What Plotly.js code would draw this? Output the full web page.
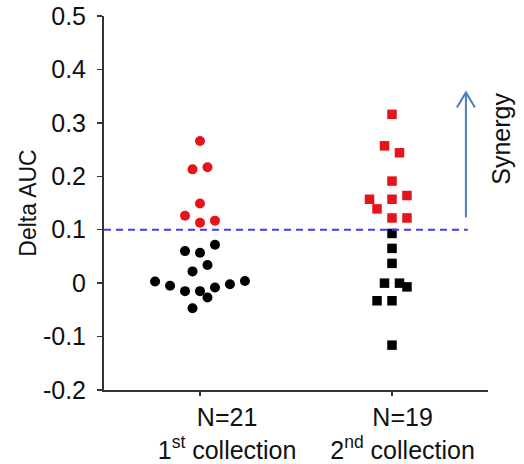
<!DOCTYPE html>
<html>
<head>
<meta charset="utf-8">
<script src="https://cdn.plot.ly/plotly-3.0.1.min.js"></script>
<style>html,body{margin:0;padding:0;background:#fff;}#chart{width:524px;height:464px;}</style>
</head>
<body>
<div id="chart"></div>
<script>
// Categories and tick labels
const categories = [1, 2];
const tickLabels = ["N=21<br>1<sup>st</sup> collection", "N=19<br>2<sup>nd</sup> collection"];

// 1st collection (circles)
const g1RedY   = [0.266, 0.213, 0.217, 0.149, 0.126, 0.113, 0.117];
const g1RedOff = [0, -1, 1, 0, -2, 0, 2];
const g1BlackY   = [0.072, 0.060, 0.057, 0.034, 0.022, 0.003, -0.005, -0.015, -0.015, -0.027, -0.008, -0.002, 0.004, -0.047];
const g1BlackOff = [2, -2, 0, 1, -1, -6, -4, -2, 0, 1, 2, 4, 6, -1];

// 2nd collection (squares)
const g2RedY   = [0.316, 0.257, 0.244, 0.191, 0.157, 0.157, 0.164, 0.139, 0.122, 0.122];
const g2RedOff = [0, -1, 1, 0, -3, 0, 2, -2, 0, 2];
const g2BlackY   = [0.093, 0.065, 0.037, 0.000, 0.000, -0.007, -0.033, -0.033, -0.116];
const g2BlackOff = [0, 0, 0, -1, 1, 2, -2, 0, 0];

const threshold = 0.1;
const yTicks = [0.5, 0.4, 0.3, 0.2, 0.1, 0, -0.1, -0.2];
const yTickText = ["0.5", "0.4", "0.3", "0.2", "0.1", "0", "-0.1", "-0.2"];

const step = 0.039;
const xs = (c, offs) => offs.map(o => c + o * step);
// labels in the source sit a little right of their ticks
const labelShift = [0.141, 0.055];

const RED = "#e8121b", BLACK = "#000000";
const FONT = "Liberation Sans, Arial, sans-serif";

function tr(x, y, color, symbol) {
  return {x, y, type: "scatter", mode: "markers", hoverinfo: "skip",
    marker: {color, symbol, size: symbol === "square" ? 9.5 : 10, line: {width: 0}}, showlegend: false, cliponaxis: false};
}

const data = [
  tr(xs(categories[0], g1RedOff), g1RedY, RED, "circle"),
  tr(xs(categories[0], g1BlackOff), g1BlackY, BLACK, "circle"),
  tr(xs(categories[1], g2RedOff), g2RedY, RED, "square"),
  tr(xs(categories[1], g2BlackOff), g2BlackY, BLACK, "square"),
  {x: [], y: [], xaxis: "x2", yaxis: "y", type: "scatter", mode: "markers", showlegend: false, hoverinfo: "skip"}
];

const arrowX = 2.385, arrowY0 = 0.123, arrowY1 = 0.357;
const ARROW = "#4a7ec0";

const layout = {
  width: 524, height: 464,
  margin: {l: 104, r: 36, t: 16, b: 74},
  paper_bgcolor: "#fff", plot_bgcolor: "#fff",
  font: {family: FONT, color: "#111", size: 23},
  xaxis: {
    range: [0.5, 2.5], tickvals: categories, ticktext: ["", ""],
    showgrid: false, zeroline: false, showline: true, linecolor: "#333", linewidth: 2,
    ticks: "outside", ticklen: 4, tickwidth: 1.5, tickcolor: "#333",
    fixedrange: true
  },
  xaxis2: {
    overlaying: "x", anchor: "y", side: "bottom",
    range: [0.5, 2.5], tickvals: categories.map((c, i) => c + labelShift[i]), ticktext: tickLabels,
    showgrid: false, zeroline: false, showline: false, ticks: "", ticklabelstandoff: 10,
    tickfont: {size: 25, family: FONT, color: "#111"}, fixedrange: true
  },
  yaxis: {
    range: [-0.2, 0.5], tickvals: yTicks, ticktext: yTickText,
    showgrid: false, zeroline: false, showline: true, linecolor: "#333", linewidth: 2,
    ticks: "outside", ticklen: 5, tickwidth: 1.5, tickcolor: "#333",
    ticklabelstandoff: 6,
    tickfont: {size: 25, family: FONT, color: "#111"},
    title: {text: "Delta AUC", font: {size: 23, family: FONT, color: "#111"}, standoff: 0},
    fixedrange: true
  },
  shapes: [
    {type: "line", xref: "x", yref: "y", x0: 0.5, x1: arrowX + 0.01, y0: threshold, y1: threshold,
     line: {color: "#3a3ef0", width: 2, dash: "7px,5px"}},
    {type: "line", xref: "x", yref: "y", x0: arrowX, x1: arrowX, y0: arrowY0, y1: arrowY1,
     line: {color: ARROW, width: 2}},
    {type: "path", xref: "x", yref: "y", xsizemode: "pixel", ysizemode: "pixel",
     xanchor: arrowX, yanchor: arrowY1, path: "M-9,-15L0,0L9,-15",
     line: {color: ARROW, width: 2}}
  ],
  annotations: [
    {text: "Synergy", xref: "paper", yref: "y", x: 1.035, y: 0.271, textangle: -90,
     showarrow: false, font: {size: 25, family: FONT, color: "#111"}, xanchor: "center", yanchor: "middle"}
  ]
};

Plotly.newPlot("chart", data, layout, {staticPlot: true, displayModeBar: false});
</script>
</body>
</html>
